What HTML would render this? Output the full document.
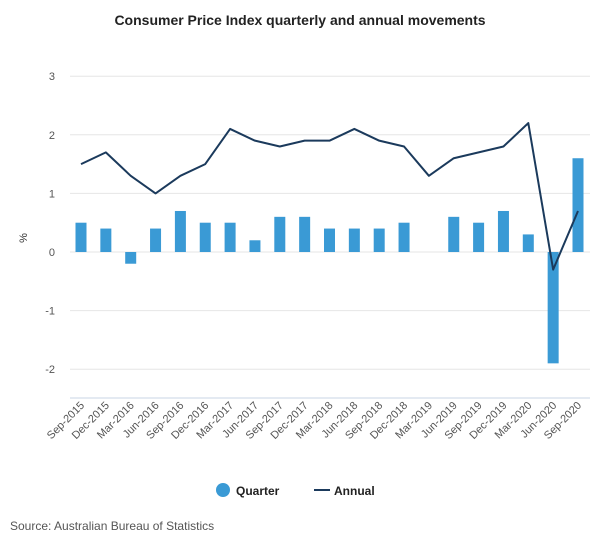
<!DOCTYPE html>
<html><head><meta charset="utf-8"><style>
body{margin:0;background:#fff;}
svg{display:block;font-family:"Liberation Sans",sans-serif;}
</style></head><body>
<svg id="chart" width="600" height="550">
<text x="300" y="25" text-anchor="middle" font-size="14" font-weight="bold" fill="#222">Consumer Price Index quarterly and annual movements</text>
<text x="27" y="238" text-anchor="middle" font-size="11" fill="#333" transform="rotate(-90 27 238)">%</text>
<g id="grid"></g><g id="bars"></g><g id="line"></g><g id="xlabels"></g>
<g>
<g><circle cx="223" cy="490" r="7" fill="#3a9ad5"/><text x="236" y="495" font-size="12" font-weight="bold" fill="#222">Quarter</text></g>
<g><line x1="314" y1="490" x2="330" y2="490" stroke="#1b3a5c" stroke-width="2"/><text x="334" y="495" font-size="12" font-weight="bold" fill="#222">Annual</text></g>
</g>
<text x="10" y="530" font-size="12" fill="#555">Source: Australian Bureau of Statistics</text>
</svg>
<script>
const categories=["Sep-2015","Dec-2015","Mar-2016","Jun-2016","Sep-2016","Dec-2016","Mar-2017","Jun-2017","Sep-2017","Dec-2017","Mar-2018","Jun-2018","Sep-2018","Dec-2018","Mar-2019","Jun-2019","Sep-2019","Dec-2019","Mar-2020","Jun-2020","Sep-2020"];
const quarterValues=[0.5,0.4,-0.2,0.4,0.7,0.5,0.5,0.2,0.6,0.6,0.4,0.4,0.4,0.5,0.0,0.6,0.5,0.7,0.3,-1.9,1.6];
const annualValues=[1.5,1.7,1.3,1.0,1.3,1.5,2.1,1.9,1.8,1.9,1.9,2.1,1.9,1.8,1.3,1.6,1.7,1.8,2.2,-0.3,0.7];
const yTicks=[3,2,1,0,-1,-2];
const NS="http://www.w3.org/2000/svg";
const y=v=>252-v*58.6;
const x=i=>81+i*24.85;
function mk(t,a,p){const e=document.createElementNS(NS,t);for(const k in a)e.setAttribute(k,a[k]);p.appendChild(e);return e;}
const grid=document.getElementById('grid');
yTicks.forEach(t=>{
  const l=mk('line',{x1:70,x2:590,y1:y(t),y2:y(t),stroke:'#e6e6e6','stroke-width':1},grid);
  
  
  const tx=mk('text',{x:55,y:y(t)+4,'text-anchor':'end','font-size':11,fill:'#555'},grid);
  tx.textContent=t;
  
  
});
const ax=mk('line',{x1:70,x2:590,y1:398,y2:398,stroke:'#c8d6e5','stroke-width':1},grid);


const bars=document.getElementById('bars');
quarterValues.forEach((v,i)=>{
  const r=mk('rect',{x:x(i)-5.5,width:11,y:Math.min(y(v),y(0)),height:Math.abs(y(v)-y(0)),fill:'#3a9ad5'},bars);
  
  
});
const p=mk('polyline',{points:annualValues.map((v,i)=>x(i)+','+y(v)).join(' '),fill:'none',stroke:'#1b3a5c','stroke-width':2,'stroke-linejoin':'round'},document.getElementById('line'));


const xl=document.getElementById('xlabels');
categories.forEach((c,i)=>{
  const t=mk('text',{x:x(i)+4,y:406,'text-anchor':'end','font-size':11,fill:'#555',transform:`rotate(-45 ${x(i)+4} 406)`},xl);
  t.textContent=c;
  
  
});
</script>
</body></html>
